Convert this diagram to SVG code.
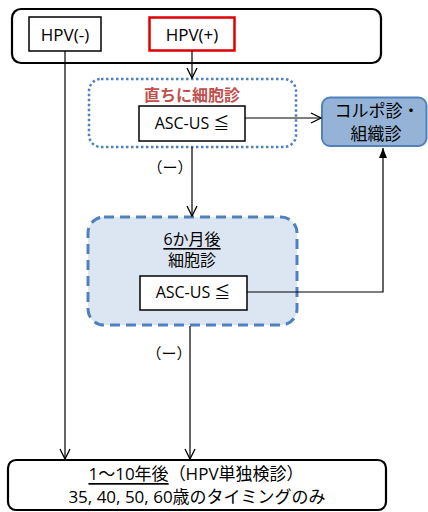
<svg xmlns="http://www.w3.org/2000/svg" width="428" height="512" viewBox="0 0 428 512">
<defs>
<style>
text{font-family:"Open Sans","Noto Sans CJK JP",sans-serif;fill:#000;text-anchor:middle;dominant-baseline:central}
.ln{fill:none;stroke:#000;stroke-width:1.2}
.box{fill:#fff;stroke:#000;stroke-width:1.5}
.u{text-decoration:underline}
</style>
<marker id="open" viewBox="0 0 12 12" refX="11" refY="6" markerWidth="12" markerHeight="12" markerUnits="userSpaceOnUse" orient="auto">
<path d="M1,1 L11,6 L1,11" fill="none" stroke="#000" stroke-width="1.3"/>
</marker>
<marker id="fill" viewBox="0 0 10 10" refX="10" refY="5" markerWidth="10" markerHeight="10" markerUnits="userSpaceOnUse" orient="auto">
<path d="M0,1 L10,5 L0,9 Z" fill="#000"/>
</marker>
</defs>
<g id="top">
<rect x="12" y="9" width="369" height="54" rx="9" fill="#fff" stroke="#000" stroke-width="2.2"/>
</g>
<g id="hpvneg">
<rect class="box" x="29" y="17" width="72" height="34"/>
<text x="65" y="34" font-size="17">HPV(-)</text>
</g>
<g id="hpvpos">
<rect x="149.5" y="17.5" width="85" height="33" fill="#fff" stroke="#e00000" stroke-width="2.5"/>
<text x="192" y="34" font-size="17">HPV(+)</text>
</g>
<g id="immediate">
<rect x="89" y="79" width="207" height="68" rx="12" fill="none" stroke="#4f81bd" stroke-width="2.5" stroke-dasharray="2.5 2.5"/>
<text x="192" y="94" font-size="16" font-weight="bold" style="fill:#c0504d;font-family:'Noto Sans CJK JP',sans-serif">直ちに細胞診</text>
</g>
<g id="ascus1">
<rect class="box" x="139" y="106" width="106" height="35"/>
<text x="192" y="123" font-size="16">ASC-US ≦</text>
</g>
<g id="colpo">
<rect x="322" y="97.5" width="104.5" height="48.5" rx="8" fill="#95b3d7" stroke="#4f81bd" stroke-width="2"/>
<text x="377" y="110" font-size="17">コルポ診・</text>
<text x="376" y="133" font-size="17">組織診</text>
</g>
<g id="sixmonth">
<rect x="88" y="217" width="209" height="108" rx="16" fill="#dce6f2" stroke="#4f81bd" stroke-width="3" stroke-dasharray="10 6"/>
<text x="192" y="239" font-size="16" class="u">6か月後</text>
<text x="192" y="260" font-size="16">細胞診</text>
</g>
<g id="ascus2">
<rect class="box" x="140" y="276" width="107" height="34"/>
<text x="193" y="292" font-size="16">ASC-US ≦</text>
</g>
<g id="bottom">
<rect x="8" y="460" width="378" height="50" rx="8" fill="#fff" stroke="#000" stroke-width="2.2"/>
<text x="196" y="473" font-size="17"><tspan class="u">1〜10年後</tspan>（HPV単独検診）</text>
<text x="197" y="496" font-size="17">35, 40, 50, 60歳のタイミングのみ</text>
</g>
<g id="connectors">
<line class="ln" x1="192" y1="51" x2="192" y2="78" marker-end="url(#open)"/>
<line class="ln" x1="245" y1="118" x2="321" y2="118" marker-end="url(#open)"/>
<line class="ln" x1="192" y1="147" x2="192" y2="216" marker-end="url(#open)"/>
<polyline class="ln" points="247,292 383,292 383,148" marker-end="url(#fill)"/>
<line class="ln" x1="190" y1="326" x2="190" y2="459" marker-end="url(#open)"/>
<line class="ln" x1="65" y1="51" x2="65" y2="459" marker-end="url(#open)"/>
<text x="170" y="166" font-size="15" style="font-family:'Noto Sans CJK JP',sans-serif">（ー）</text>
<text x="169" y="352" font-size="15" style="font-family:'Noto Sans CJK JP',sans-serif">（ー）</text>
</g>
</svg>
